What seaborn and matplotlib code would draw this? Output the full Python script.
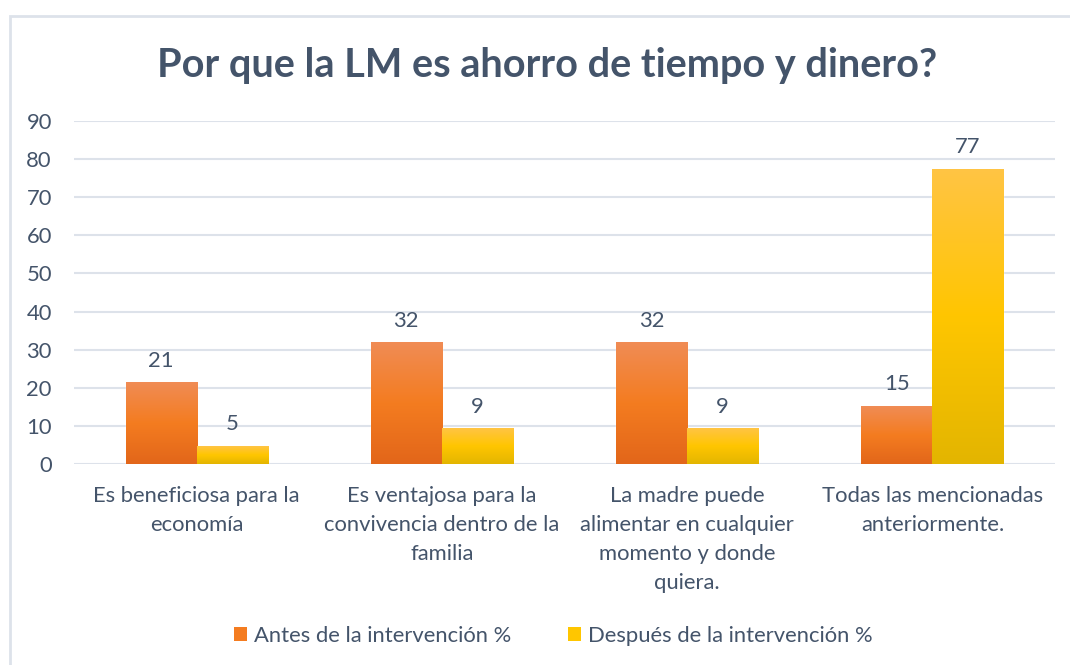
import numpy as np
import pandas as pd
import matplotlib
matplotlib.use("Agg")
import matplotlib.pyplot as plt
import seaborn as sns
from matplotlib.colors import LinearSegmentedColormap
from matplotlib.patches import Rectangle, Patch

categories = [
    "Es beneficiosa para la\neconomía",
    "Es ventajosa para la\nconvivencia dentro de la\nfamilia",
    "La madre puede\nalimentar en cualquier\nmomento y donde\nquiera.",
    "Todas las mencionadas\nanteriormente.",
]
series_names = ["Antes de la intervención %", "Después de la intervención %"]
antes = [21.3, 31.8, 31.8, 15.2]
despues = [4.6, 9.2, 9.2, 77.4]
label_antes = ["21", "32", "32", "15"]
label_despues = ["5", "9", "9", "77"]
yticks = [0, 10, 20, 30, 40, 50, 60, 70, 80, 90]
title = "Por que la LM es ahorro de tiempo y dinero?"

df = pd.DataFrame({
    "cat": categories * 2,
    "serie": [series_names[0]] * 4 + [series_names[1]] * 4,
    "valor": antes + despues,
})

sns.set_theme(style="white")
plt.rcParams["font.family"] = ["Lato", "DejaVu Sans"]
TXT = "#44546A"
FS = 15.8

fig = plt.figure(figsize=(10.7, 6.65), dpi=100)
fig.patch.set_facecolor("white")
ax = fig.add_axes([74 / 1070, 1 - 464 / 665, (1055 - 74) / 1070, (464 - 121) / 665])

mid_cols = ["#F47C20", "#FFC600"]
sns.barplot(data=df, x="cat", y="valor", hue="serie", palette=mid_cols,
            width=0.58, ax=ax, legend=False, saturation=1)

grad_o = LinearSegmentedColormap.from_list("o", ["#E2661A", "#F47C20", "#F08C55"])
grad_y = LinearSegmentedColormap.from_list("y", ["#E3B500", "#FFC600", "#FFC444"])

ax.set_ylim(0, 90)
xlim = ax.get_xlim()
grad = np.linspace(0, 1, 256).reshape(-1, 1)
for i, container in enumerate(ax.containers):
    cmap = grad_o if i == 0 else grad_y
    labs = label_antes if i == 0 else label_despues
    for bar, lab in zip(container, labs):
        x0, y0 = bar.get_x(), bar.get_y()
        w, h = bar.get_width(), bar.get_height()
        ax.imshow(grad, cmap=cmap, origin="lower", aspect="auto",
                  extent=[x0, x0 + w, y0, y0 + h], zorder=3)
        ax.text(x0 + w / 2, h + 3.2, lab, ha="center", va="bottom",
                fontsize=FS, color=TXT)
ax.set_xlim(xlim)
ax.set_ylim(0, 90)

ax.set_yticks(yticks)
ax.yaxis.grid(True, color="#DDE2EA", linewidth=1.5, zorder=0)
ax.set_axisbelow(True)
for s in ax.spines.values():
    s.set_visible(False)
ax.tick_params(axis="y", length=0, pad=16, labelsize=FS, labelcolor=TXT)
ax.tick_params(axis="x", length=0, pad=16, labelsize=FS, labelcolor=TXT)
for t in ax.get_xticklabels():
    t.set_linespacing(1.55)
    t.set_va("top")
ax.set_xlabel("")
ax.set_ylabel("")

fig.text(547 / 1070, 1 - 66 / 665, title, ha="center", va="center",
         fontsize=28.5, fontweight="bold", color=TXT)

handles = [Patch(facecolor=c, edgecolor="none") for c in mid_cols]
fig.legend(handles, series_names, loc="center", bbox_to_anchor=(553 / 1070, 1 - 636 / 665),
           ncol=2, frameon=False, fontsize=FS, labelcolor=TXT, handlelength=0.6,
           handleheight=0.6, handletextpad=0.3, columnspacing=2.6)

fig.add_artist(Rectangle((10 / 1070, -0.1), 1.2, 1 - 16 / 665 + 0.1, transform=fig.transFigure,
                         fill=False, edgecolor="#DDE2EA", linewidth=2))

fig.savefig("out.png", dpi=100)
